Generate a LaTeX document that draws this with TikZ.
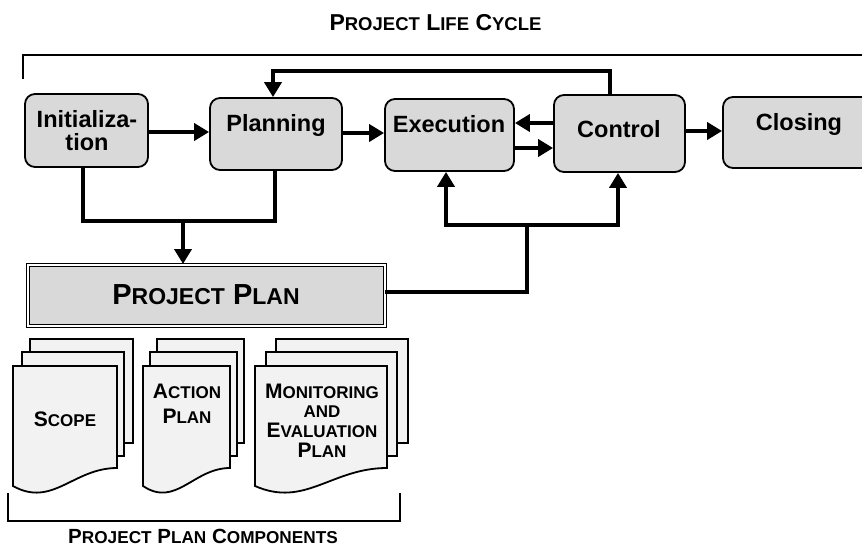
\documentclass[tikz,border=0pt]{standalone}
\usepackage{fontspec}
\setmainfont{Liberation Sans}
\usetikzlibrary{arrows.meta}
\definecolor{boxgray}{HTML}{D9D9D9}
\definecolor{docgray}{HTML}{F2F2F2}
\newcommand\fs[2]{{\fontsize{#1}{20}\selectfont #2}}
\begin{document}
\begin{tikzpicture}[x=1pt,y=-1pt,
  box/.style={draw, line width=1.8pt, rounded corners=10pt, fill=boxgray, inner sep=0pt},
  lbl/.style={inner sep=0pt, font=\bfseries\fontsize{23.5}{23}\selectfont, align=center},
  conn/.style={line width=4pt, -{Triangle[length=15pt,width=17pt]}},
  bus/.style={line width=4pt},
  bracket/.style={line width=1.6pt},
  sheet/.style={draw, line width=1.8pt, fill=docgray, line join=miter},
  captxt/.style={inner sep=0pt, anchor=base}]
\useasboundingbox (0,0) rectangle (862,547);
\clip (0,0) rectangle (862,547);

% title and bracket
\node[captxt, font=\bfseries\fontsize{23}{26}\selectfont] (title) at (435.5,30.7) {\fs{23}{P}\fs{18.5}{ROJECT} \fs{23}{L}\fs{18.5}{IFE} \fs{23}{C}\fs{18.5}{YCLE}};
\coordinate (brA) at (23,79);
\coordinate (brB) at (880,55);
\draw[bracket] (brA) |- (brB);

% phase boxes
\node[box, minimum width=123pt, minimum height=73pt] (init) at (86.5,130.5) {};
\node[box, minimum width=132pt, minimum height=72pt] (plan) at (276,134) {};
\node[box, minimum width=129pt, minimum height=72pt] (exec) at (449.5,135) {};
\node[box, minimum width=131pt, minimum height=77pt] (ctrl) at (619.5,133.5) {};
\node[box, minimum width=160pt, minimum height=71pt] (clos) at (803,132.5) {};

\node[lbl, anchor=north] (tinit) at (87,110.5) {Initializa-\\tion};
\node[lbl, anchor=base] (tplan) at (276,131) {Planning};
\node[lbl, anchor=base] (texec) at (449,132) {Execution};
\node[lbl, anchor=base] (tctrl) at (619,137) {Control};
\node[lbl, anchor=base] (tclos) at (799,130) {Closing};

% horizontal flow
\draw[conn] (init.east |- 0,132) -- (plan.west |- 0,132);
\draw[conn] (plan.east |- 0,133) -- (exec.west |- 0,133);
\draw[conn] (ctrl.west |- 0,123) -- (exec.east |- 0,123);
\draw[conn] (exec.east |- 0,148) -- (ctrl.west |- 0,148);
\draw[conn] (ctrl.east |- 0,131) -- (clos.west |- 0,131);

% feedback control -> planning
\coordinate (fbR) at (610,71);
\coordinate (fbL) at (273,71);
\draw[conn] (ctrl.north -| fbR) -- (fbR) -- (fbL) -- (plan.north -| fbL);

% project plan
\node[draw, line width=1pt, double, double distance=2pt, fill=boxgray, minimum width=357pt, minimum height=61pt, inner sep=0pt] (pp) at (206,295) {};
\node[captxt, font=\bfseries\fontsize{29}{30}\selectfont] (tpp) at (206,304) {\fs{29}{P}\fs{23}{ROJECT} \fs{29}{P}\fs{23}{LAN}};

% bus init/planning -> project plan
\coordinate (bl) at (83,221);
\coordinate (br) at (275,221);
\coordinate (bm) at (183,221);
\draw[bus] (init.south -| bl) -- (bl) -- (br) -- (plan.south -| br);
\draw[conn] (bm) -- (pp.north -| bm);

% project plan -> execution / control
\coordinate (pj) at (527,292);
\coordinate (pk) at (527,225);
\coordinate (pe) at (446,225);
\coordinate (pc) at (618,225);
\draw[bus] (pp.east |- pj) -- (pj) -- (pk);
\draw[conn] (pk) -- (pe) -- (exec.south -| pe);
\draw[conn] (pk) -- (pc) -- (ctrl.south -| pc);

% document stacks
\newcommand\docfront[2]{% left, right
  \filldraw[sheet] (#1,366) -- (#2,366) -- (#2,468)
    .. controls ({#1+0.58*(#2-#1)},468) and ({#1+0.38*(#2-#1)},508) .. (#1,486) -- cycle;}
% stack 1
\filldraw[sheet] (30,339) rectangle (133,443);
\filldraw[sheet] (22,352) rectangle (124,456);
\docfront{13}{117}
% stack 2
\filldraw[sheet] (157,339) rectangle (244,443);
\filldraw[sheet] (150,352) rectangle (237,456);
\docfront{143}{230}
% stack 3
\filldraw[sheet] (276,339) rectangle (408,443);
\filldraw[sheet] (266,352) rectangle (397,456);
\docfront{255}{387}

\node[captxt, font=\bfseries] (scope) at (65,426) {\fs{21}{S}\fs{17}{COPE}};
\node[inner sep=0pt, anchor=north, font=\bfseries\fontsize{21}{25}\selectfont, align=center] (action) at (187,383.6)
  {\fs{21}{A}\fs{17}{CTION}\\\fs{21}{P}\fs{17}{LAN}};
\node[inner sep=0pt, anchor=north, font=\bfseries\fontsize{21}{19.7}\selectfont, align=center] (mande) at (322,383.6)
  {\fs{21}{M}\fs{17}{ONITORING}\\\fs{17}{AND}\\\fs{21}{E}\fs{17}{VALUATION}\\\fs{21}{P}\fs{17}{LAN}};

% bottom bracket
\coordinate (bbA) at (8,493);
\coordinate (bbB) at (400,493);
\draw[bracket] (bbA) -- (8,521) -- (400,521) -- (bbB);
\node[captxt, font=\bfseries\fontsize{20.5}{22}\selectfont] (comp) at (203,543.5) {\fs{20.5}{P}\fs{17.2}{ROJECT} \fs{20.5}{P}\fs{17.2}{LAN} \fs{20.5}{C}\fs{17.2}{OMPONENTS}};
\end{tikzpicture}
\end{document}
